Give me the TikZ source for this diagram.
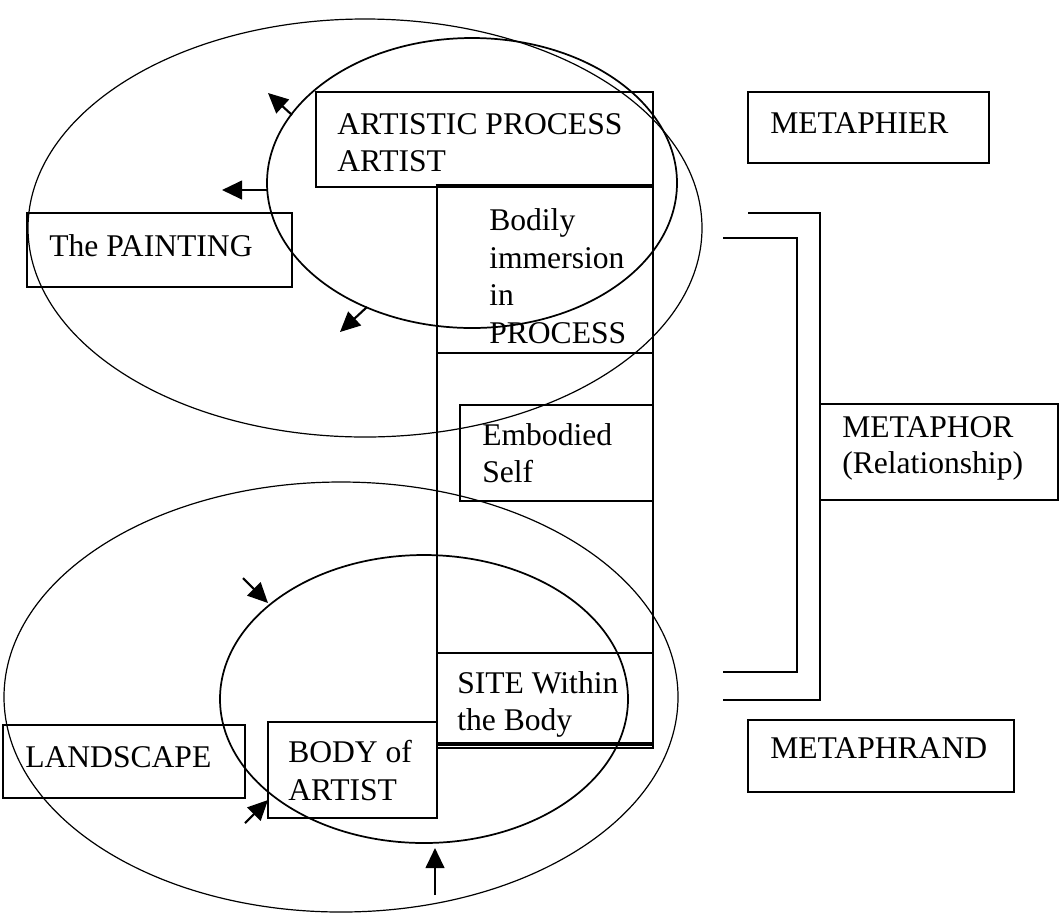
\documentclass[tikz,border=0pt]{standalone}
\usepackage{fontspec}
\setmainfont{Liberation Serif}
\usetikzlibrary{arrows.meta,fit,shapes.geometric}
\tikzset{
  box/.style={draw, line width=1.4pt, inner sep=0pt, rectangle},
  tallbox/.style={draw, line width=1.9pt, inner sep=0pt, rectangle},
  lbl/.style={anchor=base west, inner sep=0pt, font=\fontsize{23.7pt}{28pt}\selectfont},
  bigell/.style={draw, ellipse, line width=0.9pt, inner sep=0pt},
  smallell/.style={draw, ellipse, line width=1.3pt, inner sep=0pt},
  arr/.style={line width=1.6pt, -{Triangle[length=15pt,width=14pt]}},
  brk/.style={line width=1.6pt}
}
\begin{document}
\begin{tikzpicture}[x=0.75pt,y=-0.75pt]
\useasboundingbox (0,0) rectangle (1062,915);

% ellipses
\node[bigell, minimum width=505.5pt, minimum height=313.5pt] (bigup) at (365,228) {};
\node[smallell, minimum width=307.5pt, minimum height=217.5pt] (smallup) at (472,183) {};
\node[bigell, minimum width=505.5pt, minimum height=322.5pt] (biglow) at (341,697) {};
\node[smallell, minimum width=306pt, minimum height=216pt] (smalllow) at (424,699) {};

% boxes
\node[box, fit={(316,92) (653,187)}] (art) {};
\node[box, fit={(748,92) (989,163)}] (metaphier) {};
\node[box, fit={(27,213) (292,287)}] (painting) {};
\node[tallbox, fit={(437,187) (653,748)}] (tall) {};
\node[box, fit={(437,187) (653,353)}] (bodily) {};
\node[box, fit={(460,405) (653,501)}] (embodied) {};
\node[box, fit={(437,653) (653,743)}] (site) {};
\node[box, fit={(3,725) (245,798)}] (landscape) {};
\node[box, fit={(268,722) (437,818)}] (body) {};
\node[box, fit={(820,404) (1058,500)}] (metaphor) {};
\node[box, fit={(748,720) (1014,792)}] (metaphrand) {};

% thick edges
\draw[line width=3.2pt] (tall.north west) -- (tall.north east);
\draw[line width=2.4pt] (site.south west) -- (site.south east);

% texts
\node[lbl] (t1) at (337,134) {ARTISTIC PROCESS};
\node[lbl] (t2) at (337,171) {ARTIST};
\node[lbl] (t3) at (770,133) {METAPHIER};
\node[lbl] (t4) at (49,256) {The PAINTING};
\node[lbl] (t5) at (489,230) {Bodily};
\node[lbl] (t6) at (489,268) {immersion};
\node[lbl] (t7) at (489,305) {in};
\node[lbl] (t8) at (489,343) {PROCESS};
\node[lbl] (t9) at (482,445) {Embodied};
\node[lbl] (t10) at (482,482) {Self};
\node[lbl] (t11) at (457,693) {SITE Within};
\node[lbl] (t12) at (457,730) {the Body};
\node[lbl] (t13) at (25,767) {LANDSCAPE};
\node[lbl] (t14) at (288,762) {BODY of};
\node[lbl] (t15) at (288,800) {ARTIST};
\node[lbl] (t16) at (842,437) {METAPHOR};
\node[lbl] (t17) at (842,473) {(Relationship)};
\node[lbl] (t18) at (770,758) {METAPHRAND};

% arrow end points
\coordinate (a1s) at (292,115); \coordinate (a1t) at (268,93);
\coordinate (a2s) at (267,190); \coordinate (a2t) at (222,190);
\coordinate (a3s) at (367,307); \coordinate (a3t) at (340,332);
\coordinate (b1s) at (243,578); \coordinate (b1t) at (268,603);
\coordinate (b2s) at (245,823); \coordinate (b2t) at (268,800);
\coordinate (b3s) at (435,895); \coordinate (b3t) at (435,848);
\draw[arr] (a1s) -- (a1t);
\draw[arr] (a2s) -- (a2t);
\draw[arr] (a3s) -- (a3t);
\draw[arr] (b1s) -- (b1t);
\draw[arr] (b2s) -- (b2t);
\draw[arr] (b3s) -- (b3t);

% brackets
\coordinate (i1) at (723,238); \coordinate (i2) at (797,238);
\coordinate (i3) at (797,672); \coordinate (i4) at (723,672);
\coordinate (o1) at (748,213); \coordinate (o2) at (820,213);
\coordinate (o3) at (820,700); \coordinate (o4) at (723,700);
\draw[brk] (i1) -- (i2) -- (i3) -- (i4);
\draw[brk] (o1) -- (o2) -- (o3) -- (o4);
\end{tikzpicture}
\end{document}
